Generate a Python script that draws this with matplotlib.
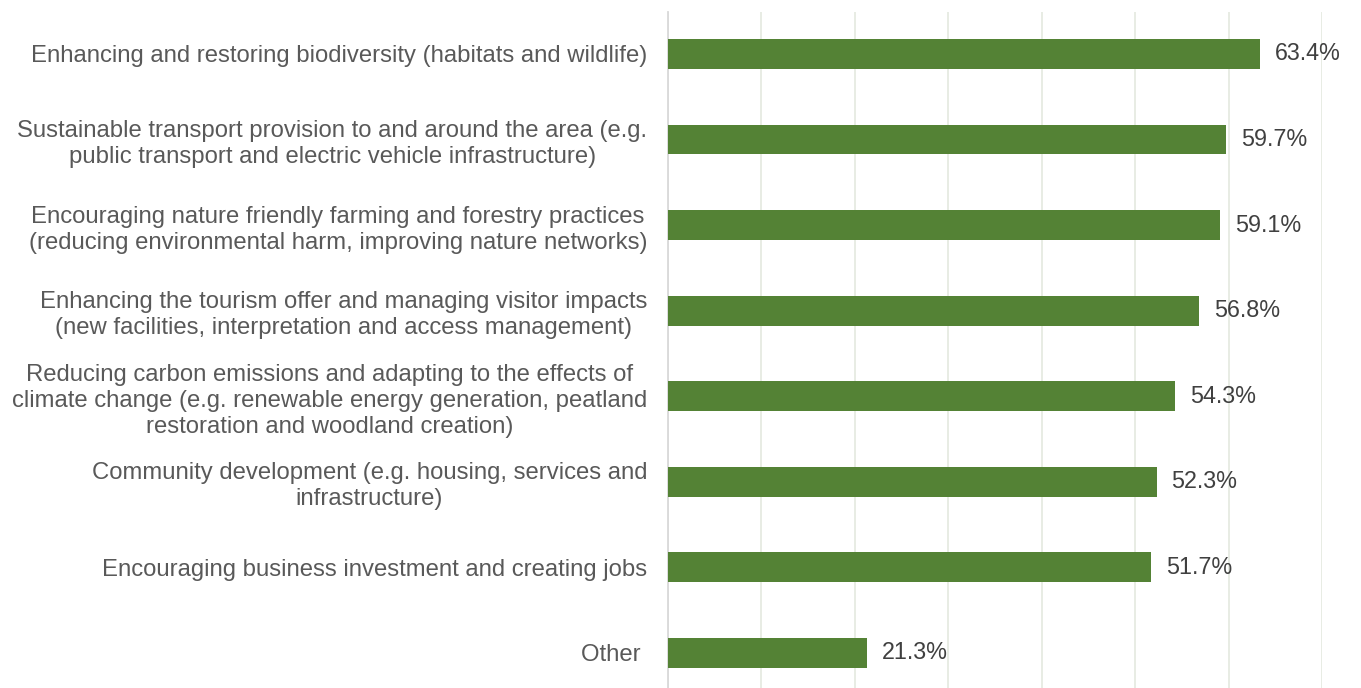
import matplotlib.pyplot as plt

categories = [
    "Enhancing and restoring biodiversity (habitats and wildlife)",
    "Sustainable transport provision to and around the area (e.g.\npublic transport and electric vehicle infrastructure)",
    "Encouraging nature friendly farming and forestry practices\n(reducing environmental harm, improving nature networks)",
    "Enhancing the tourism offer and managing visitor impacts\n(new facilities, interpretation and access management)",
    "Reducing carbon emissions and adapting to the effects of\nclimate change (e.g. renewable energy generation, peatland\nrestoration and woodland creation)",
    "Community development (e.g. housing, services and\ninfrastructure)",
    "Encouraging business investment and creating jobs",
    "Other ",
]
values = [63.4, 59.7, 59.1, 56.8, 54.3, 52.3, 51.7, 21.3]

plt.rcParams['font.family'] = ['Liberation Sans', 'DejaVu Sans']

fig = plt.figure(figsize=(13.61, 6.88), dpi=100)
ax = fig.add_axes([668 / 1361, 0, (1322 - 668) / 1361, 1 - 12 / 688])

pos = list(range(len(categories)))
ax.barh(pos, values, height=0.35, color='#548235', zorder=3)
for p, v in zip(pos, values):
    ax.text(v + 1.6, p, f"{v:.1f}%", va='center', ha='left',
            fontsize=16.8, color='#404040')

ax.set_xlim(0, 70)
ax.set_ylim(7.41, -0.49)
ax.set_xticks(range(0, 71, 10))
ax.set_xticklabels([])
ax.tick_params(axis='x', length=0)
ax.grid(axis='x', color='#e6ebe2', linewidth=1.3, zorder=0)

ax.set_yticks(pos)
ax.set_yticklabels(categories, fontsize=17.2, color='#595959',
                   multialignment='center', linespacing=1.24)
ax.tick_params(axis='y', length=0, pad=15)

for s in ['top', 'right', 'bottom']:
    ax.spines[s].set_visible(False)
ax.spines['left'].set_color('#d9d9d9')
ax.spines['left'].set_linewidth(1.3)

fig.savefig('out.png', dpi=100)
